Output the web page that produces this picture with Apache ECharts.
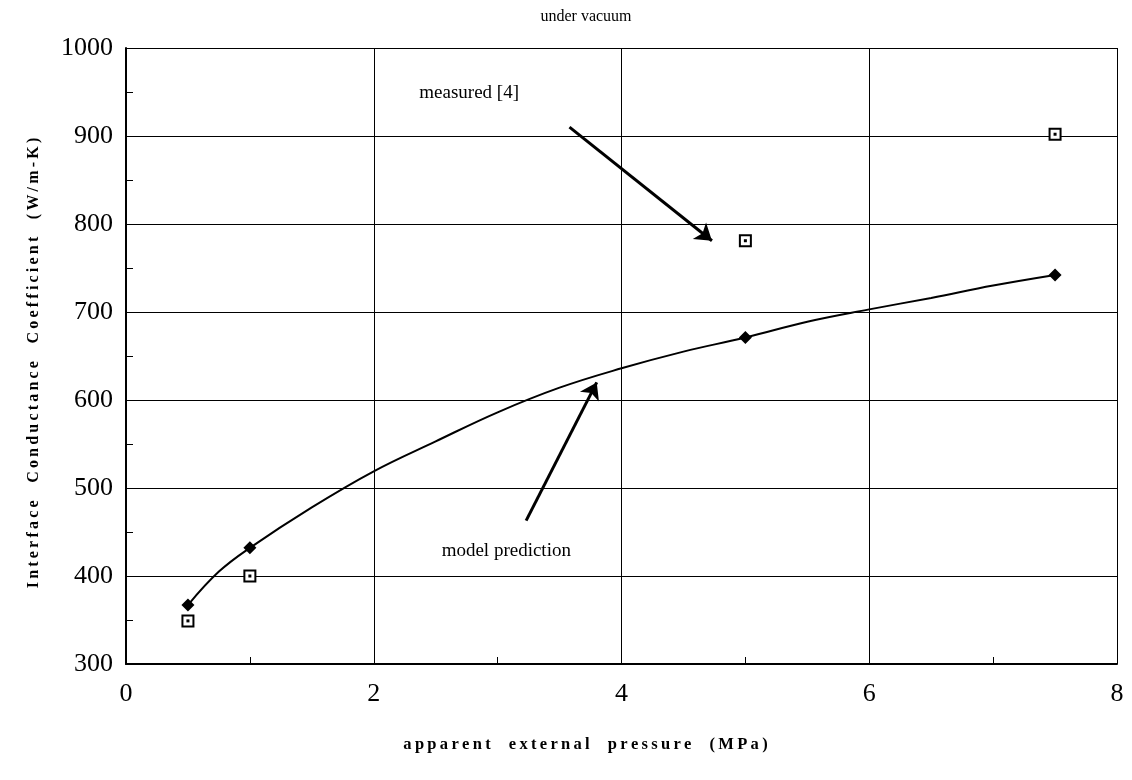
<!DOCTYPE html>
<html><head><meta charset="utf-8">
<script src="https://cdn.jsdelivr.net/npm/echarts@6/dist/echarts.min.js"></script>
<style>html,body{margin:0;padding:0;background:#fff}#c{width:1132px;height:780px}</style>
</head><body><div id="c"></div>
<script>
const xTicks = [0, 2, 4, 6, 8];
const yTicks = [300, 400, 500, 600, 700, 800, 900, 1000];
const measuredX = [0.5, 1, 5, 7.5];
const measuredY = [349, 400, 781, 902];
const modelX = [0.5, 1, 5, 7.5];
const modelY = [367, 432, 671, 742];
const curveX = [0.5, 0.75, 1, 1.5, 2, 2.5, 3, 3.5, 4, 4.5, 5, 5.5, 6, 6.5, 7, 7.5];
const curveY = [367, 405, 432, 478, 519, 553, 586, 614, 636, 655, 671, 689, 703, 716, 730, 742];
const measuredArrow = [[3.58, 910], [4.73, 781]];
const modelArrow = [[3.23, 463], [3.80, 620]];
const labels = [{text: 'measured [4]', at: [2.77, 949]}, {text: 'model prediction', at: [3.07, 428]}];
const xName = 'apparent  external  pressure  (MPa)';
const yName = 'Interface  Conductance  Coefficient  (W/m-K)';

const serif = 'Liberation Serif';
const spaced = s => s.split('').join('\u2009');
const chart = echarts.init(document.getElementById('c'));
const zip = (a, b) => a.map((v, i) => [v, b[i]]);
chart.setOption({
  backgroundColor: '#fff',
  animation: false,
  title: {text: 'under vacuum', left: 581, textAlign: 'center', top: 4,
    textStyle: {fontFamily: serif, fontSize: 16, fontWeight: 'normal', color: '#000'}},
  grid: {left: 126, right: 15, top: 48, bottom: 116},
  xAxis: {
    type: 'value', min: xTicks[0], max: xTicks[xTicks.length - 1], interval: 2,
    name: spaced(xName),
    nameLocation: 'middle', nameGap: 72,
    nameTextStyle: {fontFamily: serif, fontSize: 16.5, fontWeight: 'bold', color: '#000', padding: [0, 72, 0, 0]},
    axisLine: {show: true, lineStyle: {color: '#000', width: 2}},
    axisTick: {show: false, inside: true},
    minorTick: {show: true, splitNumber: 2, length: 7, lineStyle: {color: '#000', width: 1}},
    splitLine: {show: true, lineStyle: {color: '#000', width: 1}},
    axisLabel: {fontFamily: serif, fontSize: 26, color: '#000', margin: 17}
  },
  yAxis: {
    type: 'value', min: yTicks[0], max: yTicks[yTicks.length - 1], interval: 100,
    name: spaced(yName),
    nameLocation: 'middle', nameGap: 84,
    nameTextStyle: {fontFamily: serif, fontSize: 16, fontWeight: 'bold', color: '#000', padding: [0, 14, 0, 0]},
    axisLine: {show: true, lineStyle: {color: '#000', width: 2}},
    axisTick: {show: false, inside: true},
    minorTick: {show: true, splitNumber: 2, length: 7, lineStyle: {color: '#000', width: 1}},
    splitLine: {show: true, lineStyle: {color: '#000', width: 1}},
    axisLabel: {fontFamily: serif, fontSize: 26, color: '#000', margin: 13, formatter: v => String(v)}
  },
  series: [
    {type: 'line', data: zip(curveX, curveY), smooth: 0.4, showSymbol: false,
      lineStyle: {color: '#000', width: 2},
      markLine: {silent: true, symbol: ['none', 'arrow'], symbolSize: 16,
        lineStyle: {color: '#000', width: 3, type: 'solid'}, label: {show: false},
        data: [
          [{coord: measuredArrow[0]}, {coord: measuredArrow[1]}],
          [{coord: modelArrow[0]}, {coord: modelArrow[1]}]
        ]},
      markPoint: {silent: true, symbol: 'circle', symbolSize: 0,
        label: {show: true, position: 'inside', fontFamily: serif, fontSize: 19, color: '#000',
          formatter: p => p.name},
        data: labels.map(l => ({name: l.text, coord: l.at}))}
    },
    {type: 'scatter', data: zip(modelX, modelY), symbol: 'diamond', symbolSize: 13,
      itemStyle: {color: '#000', opacity: 1}},
    {type: 'scatter', data: zip(measuredX, measuredY), symbol: 'rect', symbolSize: 11,
      itemStyle: {color: '#fff', borderColor: '#000', borderWidth: 2, opacity: 1}},
    {type: 'scatter', data: zip(measuredX, measuredY), symbol: 'rect', symbolSize: 3,
      itemStyle: {color: '#000', opacity: 1}}
  ]
});
</script></body></html>
